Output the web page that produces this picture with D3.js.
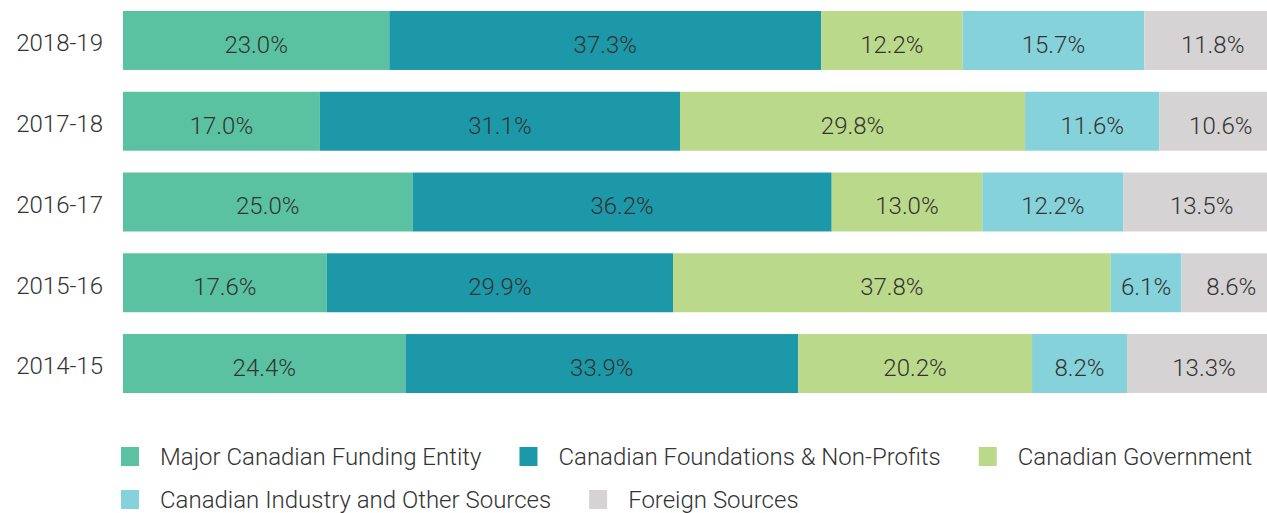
<!DOCTYPE html>
<html><head><meta charset="utf-8">
<script src="https://cdn.jsdelivr.net/npm/d3@7"></script>
<style>
body{margin:0;background:#fff;}
svg{display:block;font-family:Roboto,"Liberation Sans",Arial,sans-serif;font-weight:300;}
</style></head><body>
<svg id="c" width="1267" height="513"></svg>
<script>
const years = ["2018-19","2017-18","2016-17","2015-16","2014-15"];
const seriesNames = ["Major Canadian Funding Entity","Canadian Foundations & Non-Profits","Canadian Government","Canadian Industry and Other Sources","Foreign Sources"];
const majorEntity   = [23.0, 17.0, 25.0, 17.6, 24.4];
const foundations   = [37.3, 31.1, 36.2, 29.9, 33.9];
const government    = [12.2, 29.8, 13.0, 37.8, 20.2];
const industry      = [15.7, 11.6, 12.2, 6.1, 8.2];
const foreign       = [11.8, 10.6, 13.5, 8.6, 13.3];
const colors = ["#5ac2a0","#1c98a8","#bbd98a","#86d2da","#d5d3d4"];

const FS = 24;
const seriesValues = [majorEntity, foundations, government, industry, foreign];
const rows = years.map((y,i)=>{const r={year:y}; seriesNames.forEach((s,j)=>r[s]=seriesValues[j][i]); return r;});
const stacked = d3.stack().keys(seriesNames)(rows);

const svg = d3.select("#c");
const x = d3.scaleLinear().domain([0,100]).range([123,1281]);
const y = d3.scaleBand().domain(years).range([11,393]).paddingInner(0.27).paddingOuter(0);
const color = d3.scaleOrdinal().domain(seriesNames).range(colors);

const g = svg.append("g");
stacked.forEach(layer=>{
  const lg = g.append("g");
  lg.selectAll("rect").data(layer).join("rect")
    .attr("x",d=>x(d[0])).attr("width",d=>x(d[1])-x(d[0]))
    .attr("y",d=>y(d.data.year)).attr("height",y.bandwidth())
    .attr("fill",color(layer.key));
  lg.selectAll("text").data(layer).join("text")
    .attr("x",d=>(x(d[0])+x(d[1]))/2)
    .attr("y",d=>y(d.data.year)+y.bandwidth()/2+4)
    .attr("dy","0.35em").attr("text-anchor","middle")
    .attr("font-size",FS).attr("fill","#333")
    .text(d=>d3.format(".1f")(d[1]-d[0])+"%");
});

const ya = svg.append("g").attr("transform","translate(103,0)")
  .call(d3.axisLeft(y).tickSize(0).tickPadding(0));
ya.attr("font-family",null).attr("font-size",null);
ya.select(".domain").remove();
ya.selectAll("text").attr("font-size",FS).attr("fill","#333").attr("dy","0.45em");

const legendRows = [[0,1,2],[3,4]];
const rowY = [457,500];
const lg = svg.append("g");
legendRows.forEach((row,ri)=>{
  let cx = 121;
  row.forEach(si=>{
    const it = lg.append("g").attr("transform",`translate(${cx},${rowY[ri]})`);
    it.append("rect").attr("x",0).attr("y",-10).attr("width",18).attr("height",19).attr("fill",colors[si]);
    const t = it.append("text").attr("x",39).attr("y",0).attr("dy","0.35em")
      .attr("font-size",FS).attr("fill","#333").text(seriesNames[si]);
    cx += 39 + t.node().getComputedTextLength() + 38;
  });
});
</script></body></html>
